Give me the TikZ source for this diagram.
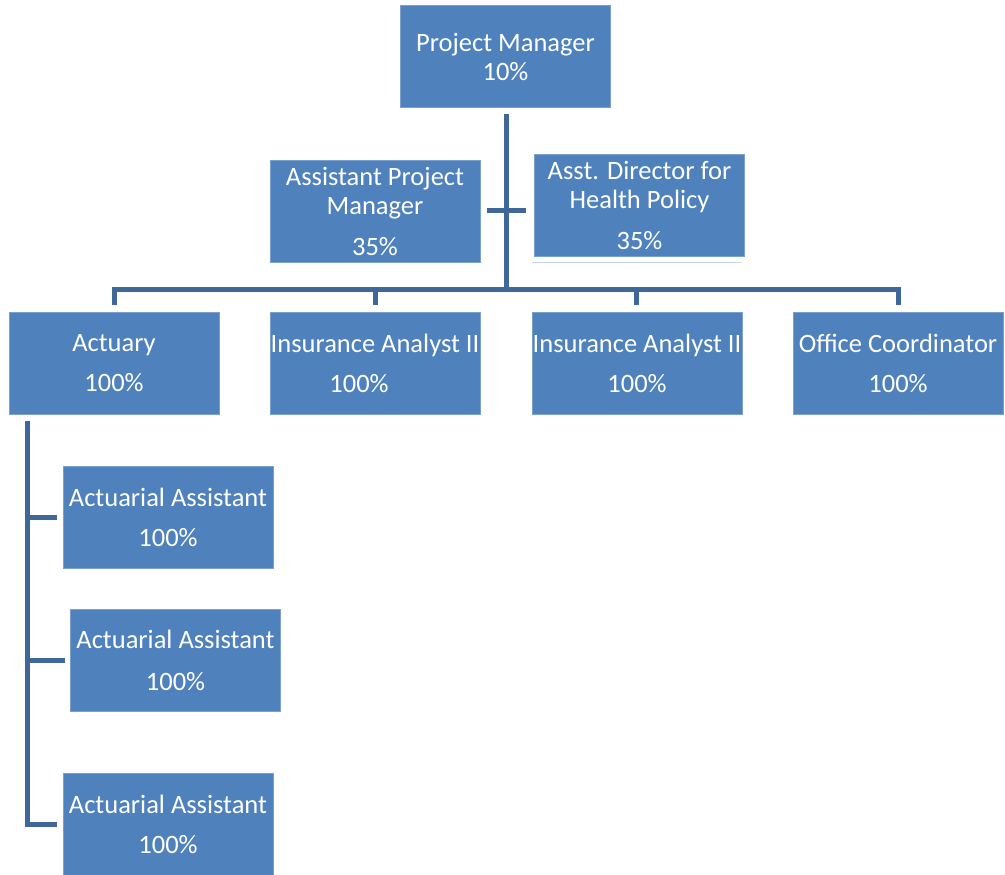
\documentclass[tikz,border=0pt]{standalone}
\usepackage{fontspec}
\setmainfont{Carlito}
\definecolor{boxblue}{HTML}{4F81BD}
\definecolor{linkblue}{RGB}{64,103,153}
\definecolor{faintblue}{RGB}{200,215,236}
\begin{document}
\begin{tikzpicture}[x=1pt,y=-1pt,
  box/.style={fill=boxblue, draw=boxblue!75!white, line width=0.8pt,
    minimum width=210pt, minimum height=102pt, inner sep=0pt,
    align=center, text=white, font=\fontsize{26.5}{29}\selectfont},
  link/.style={draw=linkblue, line width=5pt}]
\useasboundingbox (0,0) rectangle (1005,875);

% boxes
\node[box] (pm)  at (505.5,56.5) {Project Manager\\10\%};
\node[box] (apm) at (375,211)    {Assistant Project\\Manager\\[12pt]35\%};
\node[box] (ad)  at (639.5,205)  {Asst. Director for\\Health Policy\\[12pt]35\%};
\node[box] (act) at (114,363.5)  {Actuary\\[11pt]100\%};
\node[box] (ia1) at (375,363.5)  {Insurance Analyst II\\[11pt]\hspace*{-32pt}100\%};
\node[box] (ia2) at (637,363.5)  {Insurance Analyst II\\[11pt]100\%};
\node[box] (oc)  at (898,363.5)  {Office Coordinator\\[11pt]100\%};
\node[box] (aa1) at (168,517)    {Actuarial Assistant\\[11pt]100\%};
\node[box] (aa2) at (175.5,660)  {Actuarial Assistant\\[13pt]100\%};
\node[box] (aa3) at (168,824)    {Actuarial Assistant\\[11pt]100\%};

% faint line under the director box
\draw[faintblue, line width=1pt] (ad.south west) ++(-2,6) coordinate (fl1) -- ++(210,0) coordinate (fl2);

% connector coordinates
\coordinate (pmtop) at (506,114);
\coordinate (busc)  at (506,292);
\coordinate (stl)   at (487,210);
\coordinate (str)   at (526,210);
\coordinate (b1) at (114,289);
\coordinate (b1e) at (114,305);
\coordinate (b2) at (375,289);
\coordinate (b2e) at (375,305);
\coordinate (b3) at (636,289);
\coordinate (b3e) at (636,305);
\coordinate (b4) at (898,289);
\coordinate (b4e) at (898,305);
\coordinate (lv) at (27,421);
\coordinate (lv1) at (27,517);
\coordinate (lv2) at (27,660);
\coordinate (lv3) at (27,824);
\coordinate (h1) at (57,517);
\coordinate (h2) at (65,660);
\coordinate (h3) at (57,824);

% connectors
\draw[link] (pmtop) -- (busc);
\draw[link] (stl) -- (str);
\draw[link] (b1e) -- (b1) -- (b4) -- (b4e);
\draw[link] (b2) -- (b2e);
\draw[link] (b3) -- (b3e);
\draw[link] (lv) -- (lv3) -- (h3);
\draw[link] (lv1) -- (h1);
\draw[link] (lv2) -- (h2);
\end{tikzpicture}
\end{document}
